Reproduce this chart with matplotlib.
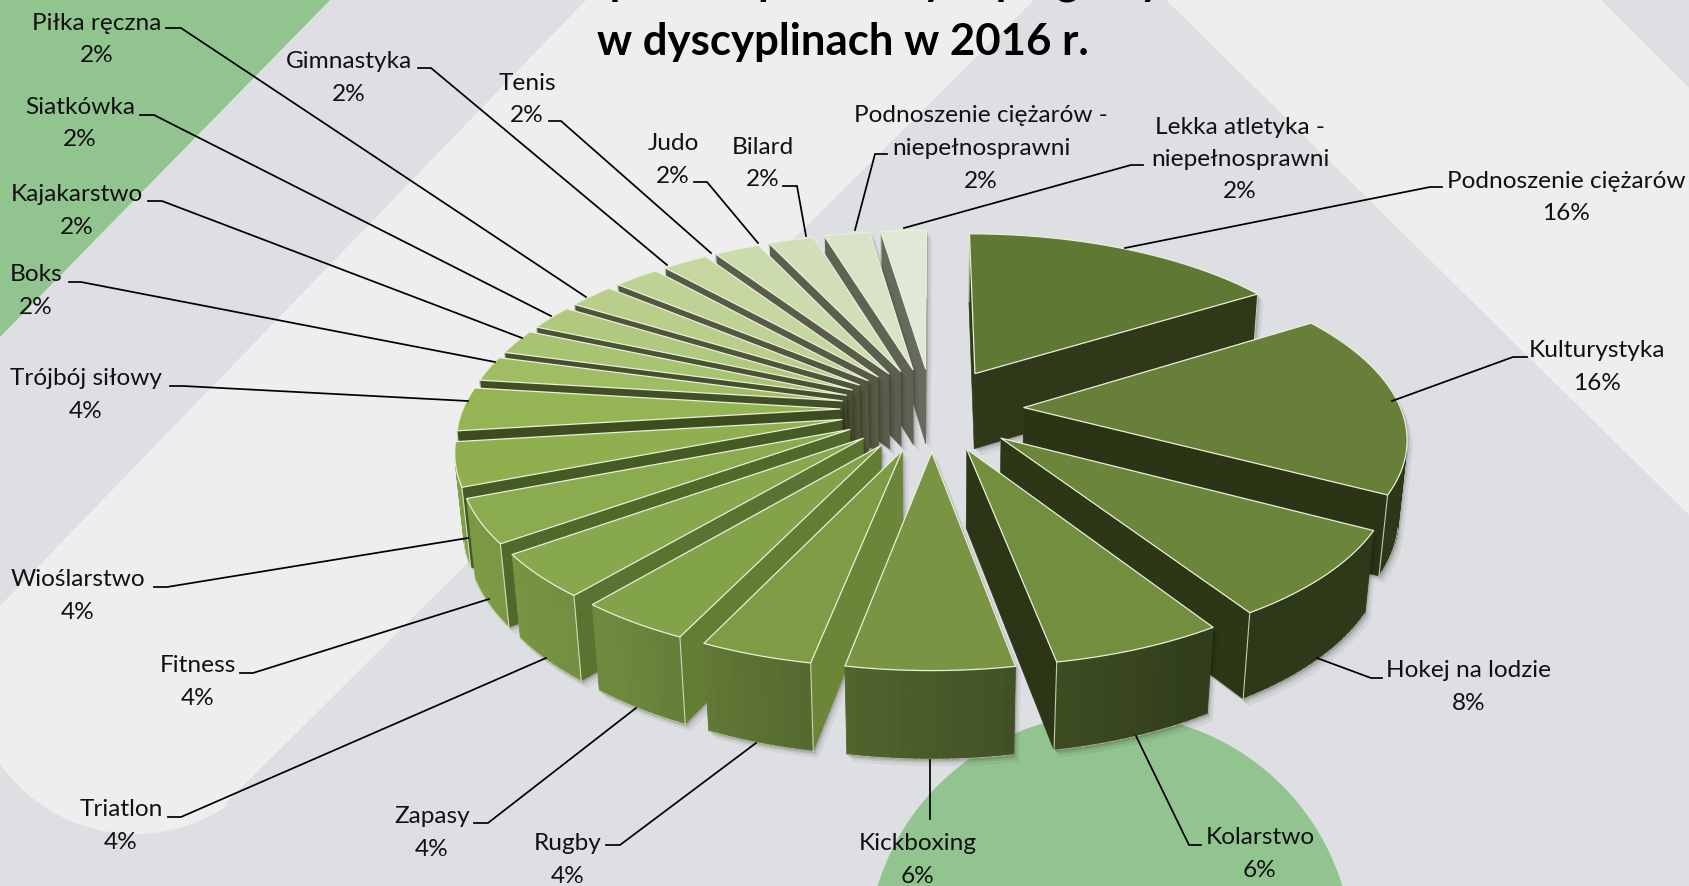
#!/usr/bin/env python3
"""Exploded 3D pie of doping-control shares per sport, drawn by hand on a pixel axes."""
import matplotlib
matplotlib.use("Agg")
import matplotlib.pyplot as plt
import numpy as np
from matplotlib.patches import Circle, Polygon

plt.rcParams["font.family"] = ["Lato", "DejaVu Sans"]

# clockwise from 12 o'clock
sports = ["Podnoszenie ciężarów", "Kulturystyka", "Hokej na lodzie", "Kolarstwo",
          "Kickboxing", "Rugby", "Zapasy", "Triatlon", "Fitness", "Wioślarstwo",
          "Trójbój siłowy", "Boks", "Kajakarstwo", "Siatkówka", "Piłka ręczna",
          "Gimnastyka", "Tenis", "Judo", "Bilard",
          "Podnoszenie ciężarów -\nniepełnosprawni", "Lekka atletyka -\nniepełnosprawni"]
shares = [16, 16, 8, 6, 6, 4, 4, 4, 4, 4, 4, 2, 2, 2, 2, 2, 2, 2, 2, 2, 2]
slice_sizes = [16, 16.9, 8.1, 6.1, 5.9, 4, 4, 4, 4, 4, 4, 2.3, 2.3, 2.3, 2.3, 2.3, 2.3, 2.3, 2.3, 2.3, 2.3]

top_colors = ["#5f7833", "#677f38", "#6b853b", "#728e3f", "#799543", "#7e9c46", "#82a349",
              "#87a84c", "#8aab4e", "#90b050", "#95b554", "#a0bd64", "#a8c372", "#b0c97e",
              "#b8ce8a", "#bfd295", "#c6d69f", "#ccdbab", "#d2deb8", "#d9e3c6", "#e1e9d6"]
cut_colors = ["#2f3919", "#2b3515", "#2d3716", "#2c3616", "#3a4720", "#6b8638", "#637d33",
              "#5a7330", "#506829", "#455a25", "#3d4d20", "#414e26", "#464f2d", "#4a5233",
              "#4e5539", "#52583f", "#565b45", "#595d4a", "#5b5f4f", "#5f6354", "#676b5d"]

# label centre (x, y of first line), then the leader polyline, in image pixels
label_pos = [(1566, 181), (1597, 351), (1469, 671), (1260, 838), (918, 844), (568, 844),
             (432, 817), (121, 810), (198, 666), (78, 580), (86, 379), (36, 275), (77, 195),
             (80, 107), (97, 23), (349, 62), (527, 83), (673, 144), (763, 147), (981, 116),
             (1240, 127)]
leaders = [[(1442, 188), (1430, 188), (1125, 249)],
           [(1527, 358), (1513, 358), (1392, 402)],
           [(1382, 679), (1371, 679), (1317, 659)],
           [(1201, 846), (1189, 846), (1136, 737)],
           [(930, 820), (930, 761)],
           [(606, 846), (620, 846), (756, 744)],
           [(474, 824), (488, 824), (636, 709)],
           [(168, 818), (181, 818), (546, 659)],
           [(240, 674), (253, 674), (489, 600)],
           [(154, 588), (167, 588), (468, 539)],
           [(170, 387), (183, 387), (468, 402)],
           [(69, 283), (81, 283), (495, 363)],
           [(148, 202), (162, 202), (522, 339)],
           [(140, 116), (154, 116), (551, 317)],
           [(166, 29), (181, 29), (586, 298)],
           [(418, 69), (431, 69), (667, 266)],
           [(549, 122), (561, 122), (711, 254)],
           [(694, 183), (707, 183), (758, 244)],
           [(783, 187), (797, 187), (806, 237)],
           [(887, 155), (875, 155), (855, 231)],
           [(1143, 166), (1131, 166), (904, 229)]]

# camera / pie layout
CX, CY = 932, 410
RADIUS, EXPLODE, DEPTH = 377, 92, 88
SIN_E, COS_E = 0.453, 0.89
PERSP = 0.00045
W, H = 1690, 887


def project(x, y, z):
    s = 1.0 / (1.0 + PERSP * (y * COS_E - z * SIN_E))
    return CX + s * x, CY - s * (y * SIN_E + z * COS_E)


def shade(color, f):
    rgb = np.array(matplotlib.colors.to_rgb(color))
    return tuple(np.clip(rgb * f, 0, 1))


def area(pts):
    p = np.asarray(pts)
    x, y = p[:, 0], p[:, 1]
    return 0.5 * np.sum(x * np.roll(y, -1) - np.roll(x, -1) * y)


def hull(pts):
    pts = sorted(map(tuple, pts))
    def half(seq):
        out = []
        for p in seq:
            while len(out) > 1 and ((out[-1][0] - out[-2][0]) * (p[1] - out[-2][1])
                                    - (out[-1][1] - out[-2][1]) * (p[0] - out[-2][0])) <= 0:
                out.pop()
            out.append(p)
        return out[:-1]
    return half(pts) + half(pts[::-1])


fig = plt.figure(figsize=(W / 100, H / 100), dpi=100)
ax = fig.add_axes([0, 0, 1, 1])
ax.set_xlim(0, W)
ax.set_ylim(H, 0)
ax.axis("off")

# background
GREY, LIGHT, GREEN = "#dedfe3", "#eeeeee", "#92c490"
ax.add_patch(Polygon([(0, 0), (W, 0), (W, H), (0, H)], color=GREY, lw=0, zorder=0))
end_a = np.radians(np.linspace(56, 145, 30))
stripe_end = [(135 + 165 * np.cos(a), 670 + 165 * np.sin(a)) for a in end_a]
ax.add_patch(Polygon([(587, 0), (1035, 0), (226, 804)] + stripe_end + [(0, 607)],
                     color=LIGHT, lw=0, zorder=0.1))
ax.add_patch(Polygon([(1165, 0), (1600, 0), (1690, 90), (1690, 517)], color=LIGHT, lw=0, zorder=0.1))
ax.add_patch(Polygon([(0, 0), (331, 0), (0, 338)], color=GREEN, lw=0, zorder=0.2))
ax.add_patch(Circle((1110, 958), 243, color=GREEN, lw=0, zorder=0.2))

# pie
EDGE = "#e9efd9"
total = sum(slice_sizes)
starts = np.cumsum([0] + slice_sizes[:-1]) / total * 360
sweeps = np.array(slice_sizes) / total * 360
order = np.argsort([-np.cos(np.radians(s + d / 2)) for s, d in zip(starts, sweeps)])

z = 3
for i in order:
    a0, da = starts[i], sweeps[i]
    mid = np.radians(a0 + da / 2)
    ox, oy = EXPLODE * np.sin(mid), EXPLODE * np.cos(mid)
    ang = np.radians(np.linspace(a0, a0 + da, max(4, int(da / 1.2))))
    xs = np.r_[ox, ox + RADIUS * np.sin(ang)]
    ys = np.r_[oy, oy + RADIUS * np.cos(ang)]
    top = [project(x, y, 0) for x, y in zip(xs, ys)]
    bot = [project(x, y, -DEPTH) for x, y in zip(xs, ys)]

    # soft drop shadow
    sil = np.array(hull(top + bot))
    for off, alpha in ((7, 0.05), (4, 0.08), (2, 0.12)):
        ax.add_patch(Polygon(sil + [off * 0.8, off], color="black", alpha=alpha, lw=0, zorder=z))
    z += 0.01

    n = len(top)
    for k in range(n):
        m = (k + 1) % n
        face = [top[m], top[k], bot[k], bot[m]]
        if area(face) <= 0:
            continue
        if k == 0 or k == n - 1:
            ax.add_patch(Polygon(face, facecolor=cut_colors[i], edgecolor=cut_colors[i], lw=0.4, zorder=z))
            # pale vertical at the corner with the rim
            corner = top[1] if k == 0 else top[n - 1]
            base = bot[1] if k == 0 else bot[n - 1]
            ax.plot(*zip(corner, base), color=EDGE, lw=0.8, alpha=0.8, zorder=z + 0.004)
        else:
            th = np.degrees(ang[k - 1:k + 1].mean())
            f = np.interp(th, [150, 176, 195, 215, 240, 260], [0.43, 0.58, 0.70, 0.84, 0.90, 0.90])
            col = shade(top_colors[i], f)
            ax.add_patch(Polygon(face, facecolor=col, edgecolor=col, lw=0.6, zorder=z))
            ax.plot(*zip(bot[k], bot[m]), color=EDGE, lw=0.7, alpha=0.6, zorder=z + 0.004)
    ax.add_patch(Polygon(top, facecolor=top_colors[i], edgecolor=EDGE, lw=0.9,
                         joinstyle="round", zorder=z + 0.005))
    z += 0.01

# leaders and labels
for path in leaders:
    ax.plot(*zip(*path), color="black", lw=1.25, solid_joinstyle="miter", zorder=20)
for name, val, (x, y) in zip(sports, shares, label_pos):
    for j, line in enumerate(name.split("\n") + [f"{val}%"]):
        ax.text(x, y + j * 32.5, line, ha="center", va="center", fontsize=17.6, color="#111111", zorder=21)

# title, first line is cut by the image edge
ax.text(843, 55, "w dyscyplinach w 2016 r.", ha="center", va="baseline", fontsize=31.5,
        fontweight="bold", color="black", zorder=21)
ax.text(843, -6, "Liczba pobrań prób antydopingowych", ha="center", va="baseline", fontsize=31.5,
        fontweight="bold", color="black", zorder=21)

fig.savefig("out.png", dpi=100)
